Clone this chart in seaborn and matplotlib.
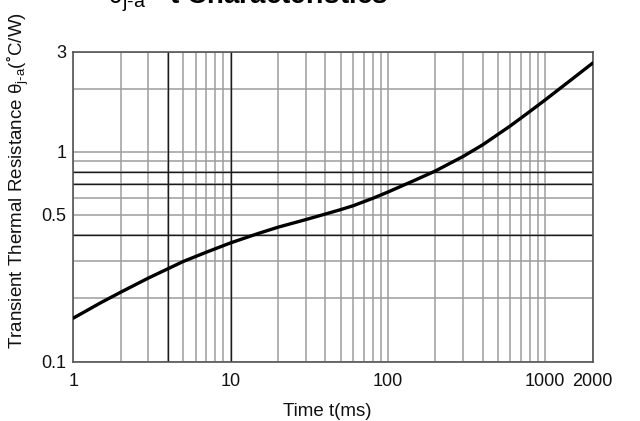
import matplotlib
matplotlib.use("Agg")
import matplotlib.pyplot as plt
import seaborn as sns
import pandas as pd

# Transient thermal resistance vs pulse time
time_ms = [1, 1.5, 2, 3, 4, 5, 7, 10, 15, 20, 30, 40, 50, 60, 80, 100,
           150, 200, 300, 400, 600, 800, 1000, 1500, 2000]
theta_ja = [0.161, 0.191, 0.214, 0.250, 0.277, 0.300, 0.332, 0.368, 0.408,
            0.437, 0.475, 0.505, 0.530, 0.553, 0.600, 0.643, 0.735, 0.810,
            0.950, 1.08, 1.33, 1.56, 1.77, 2.24, 2.65]

x_ticks = [1, 10, 100, 1000, 2000]
x_ticklabels = ["1", "10", "100", "1000", "2000"]
y_ticks = [0.1, 0.5, 1, 3]
y_ticklabels = ["0.1", "0.5", "1", "3"]
x_minor = [2, 3, 4, 5, 6, 7, 8, 9, 20, 30, 40, 50, 60, 70, 80, 90,
           200, 300, 400, 500, 600, 700, 800, 900]
y_minor = [0.2, 0.3, 0.4, 0.6, 0.7, 0.8, 0.9, 2]
x_dark = [4, 10]
y_dark = [0.4, 0.7, 0.8]

sns.set_theme(style="white")
plt.rcParams["font.family"] = ["Liberation Sans", "DejaVu Sans"]
plt.rcParams["mathtext.fontset"] = "custom"
plt.rcParams["mathtext.rm"] = "Liberation Sans"
plt.rcParams["mathtext.it"] = "Liberation Sans"

df = pd.DataFrame({"t": time_ms, "theta": theta_ja})

fig = plt.figure(figsize=(6.4, 4.21), dpi=100)
ax = fig.add_axes([0.1145, 0.1413, 0.8115, 0.7357])

ax.set_xscale("log")
ax.set_yscale("log")
ax.set_xlim(1, 2000)
ax.set_ylim(0.1, 3)

ax.set_xticks(x_ticks)
ax.set_xticklabels(x_ticklabels)
ax.set_xticks(x_minor, minor=True)
ax.set_xticklabels([], minor=True)
ax.set_yticks(y_ticks)
ax.set_yticklabels(y_ticklabels)
ax.set_yticks(y_minor, minor=True)
ax.set_yticklabels([], minor=True)

ax.grid(True, which="both", color="#9c9c9c", linewidth=1.1)
for v in x_dark:
    ax.axvline(v, color="#1a1a1a", linewidth=1.0, zorder=1.5)
for v in y_dark:
    ax.axhline(v, color="#1a1a1a", linewidth=1.0, zorder=1.5)
ax.set_axisbelow(True)

sns.lineplot(data=df, x="t", y="theta", ax=ax, color="black",
             linewidth=2.4, zorder=3)

ax.tick_params(which="both", length=0, labelsize=13, colors="#111111")
ax.tick_params(axis="x", pad=8)
ax.tick_params(axis="y", pad=5)
for s in ax.spines.values():
    s.set_color("#555555")
    s.set_linewidth(1.2)

ax.set_xlabel("Time t(ms)", fontsize=13.5, color="#111111")
ax.xaxis.set_label_coords(0.489, -0.135)
ax.set_ylabel(r"Transient Thermal Resistance $\theta_{\mathrm{j\text{-}a}}$(˚C/W)",
              fontsize=13.5, color="#111111")
ax.yaxis.set_label_coords(-0.081, 0.583)

fig.text(0.387, 1 - 3 / 421,
         r"$\theta_{\mathrm{j\text{-}a}}$ - t Characteristics",
         ha="center", va="baseline", fontsize=20, fontweight="bold",
         color="black")

fig.savefig("out.png", dpi=100, facecolor="white")
